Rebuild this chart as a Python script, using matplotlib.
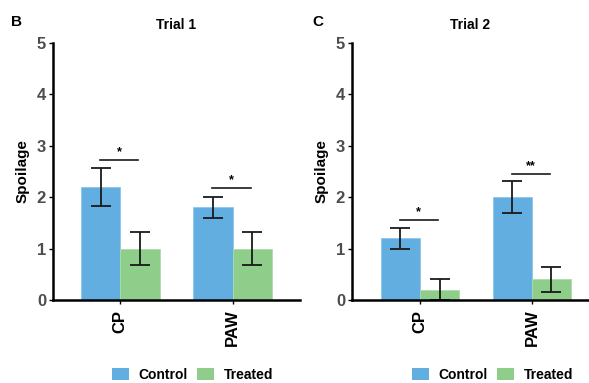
import matplotlib
matplotlib.use("Agg")
import matplotlib.pyplot as plt
import numpy as np
from matplotlib.patches import Patch

plt.rcParams["font.family"] = ["Liberation Sans", "DejaVu Sans"]
plt.rcParams["font.weight"] = "bold"

categories = ["CP", "PAW"]
groups = ["Control", "Treated"]

# trial 1
t1_control = [2.2, 1.8]
t1_control_err = [0.37, 0.2]
t1_treated = [1.0, 1.0]
t1_treated_err = [0.32, 0.32]
t1_sig = ["*", "*"]
t1_sig_y = [2.72, 2.18]

# trial 2
t2_control = [1.2, 2.0]
t2_control_err = [0.2, 0.31]
t2_treated = [0.2, 0.4]
t2_treated_err = [0.2, 0.25]
t2_sig = ["*", "**"]
t2_sig_y = [1.56, 2.45]

blue = "#62aee0"
green = "#8ecd8a"
tick_grey = "#4d4d4d"

fig = plt.figure(figsize=(5.89, 3.83), dpi=100)
ax1 = fig.add_axes([53 / 589, 83 / 383, 247 / 589, 257 / 383])
ax2 = fig.add_axes([352 / 589, 83 / 383, 237 / 589, 257 / 383])


def draw_panel(ax, control, control_err, treated, treated_err, sig, sig_y,
               title, letter, letter_x, xlim, legend_x):
    x = np.arange(1, len(categories) + 1)
    w = 0.35
    ax.bar(x - w / 2, control, w, color=blue, edgecolor="#8cc6ec", lw=0.6)
    ax.bar(x + w / 2, treated, w, color=green, edgecolor="#aedcaa", lw=0.6)
    ax.errorbar(x - w / 2, control, yerr=control_err, fmt="none",
                ecolor="#1a1a1a", elinewidth=1.3, capsize=7, capthick=1.3)
    ax.errorbar(x + w / 2, treated, yerr=treated_err, fmt="none",
                ecolor="#1a1a1a", elinewidth=1.3, capsize=7, capthick=1.3)
    # significance bars
    for xi, s, yy in zip(x, sig, sig_y):
        ax.plot([xi - 0.18, xi + 0.16], [yy, yy], color="#1a1a1a", lw=1.2)
        ax.text(xi - 0.01, yy + 0.03, s, ha="center", va="bottom",
                fontsize=9, fontweight="bold")

    ax.set_xlim(*xlim)
    ax.set_ylim(0, 5)
    ax.set_yticks(range(0, 6))
    ax.set_xticks(x)
    ax.set_xticklabels(categories, rotation=90, fontsize=12,
                       fontweight="bold")
    ax.tick_params(axis="y", labelsize=12, labelcolor=tick_grey,
                   length=3, width=1, pad=2)
    ax.tick_params(axis="x", length=3, width=1, pad=4)
    for lab in ax.get_yticklabels():
        lab.set_fontweight("bold")
    ax.spines["top"].set_visible(False)
    ax.spines["right"].set_visible(False)
    ax.spines["left"].set_linewidth(1.8)
    ax.spines["bottom"].set_linewidth(1.8)
    ax.set_ylabel("Spoilage", fontsize=11, fontweight="bold", labelpad=5)
    ax.set_title(title, fontsize=10, fontweight="bold", pad=10)
    fig.text(letter_x, 1 - 22 / 383, letter, fontsize=11,
             fontweight="bold", va="center", ha="center")

    handles = [Patch(facecolor=blue, label=groups[0]),
               Patch(facecolor=green, label=groups[1])]
    ax.legend(handles=handles, loc="center", ncol=2, frameon=False,
              bbox_to_anchor=(legend_x, -0.29), handlelength=1.2,
              handleheight=1.0, columnspacing=0.7, handletextpad=0.7,
              prop={"weight": "bold", "size": 10})


draw_panel(ax1, t1_control, t1_control_err, t1_treated, t1_treated_err,
           t1_sig, t1_sig_y, "Trial 1", "B", 17 / 589, (0.4, 2.6), 0.565)
draw_panel(ax2, t2_control, t2_control_err, t2_treated, t2_treated_err,
           t2_sig, t2_sig_y, "Trial 2", "C", 318 / 589, (0.393, 2.51), 0.593)

fig.savefig("out.png", dpi=100)
